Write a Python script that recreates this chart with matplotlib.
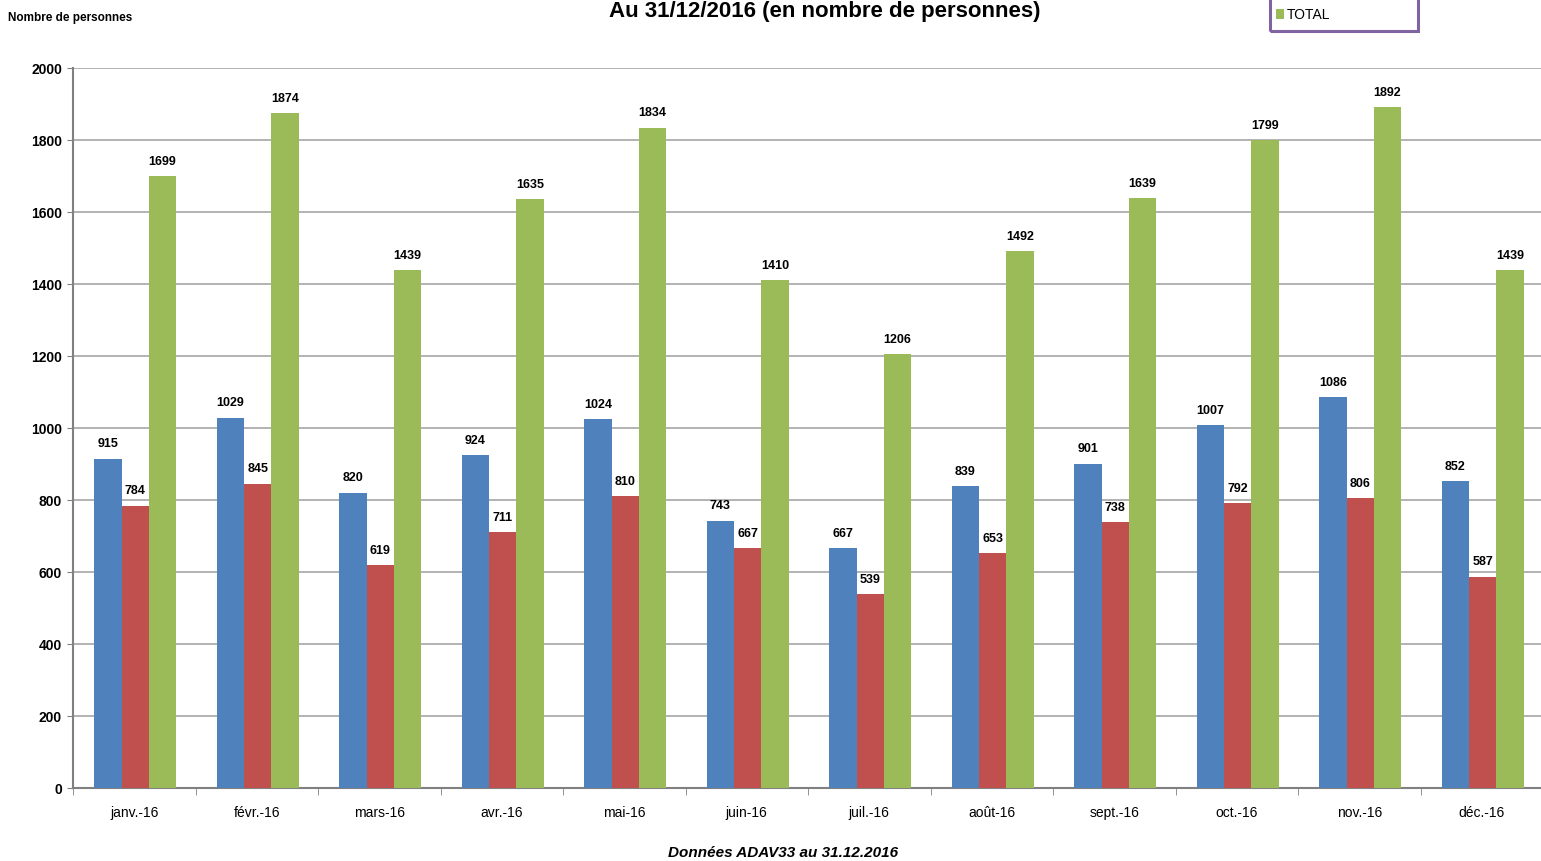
import numpy as np
import matplotlib
matplotlib.use('Agg')
import matplotlib.pyplot as plt
from matplotlib.patches import Rectangle
from matplotlib.ticker import MultipleLocator, FixedLocator

plt.rcParams['font.family'] = ['Liberation Sans', 'DejaVu Sans']

# ---- données ----
mois = ['janv.-16', 'févr.-16', 'mars-16', 'avr.-16', 'mai-16', 'juin-16',
        'juil.-16', 'août-16', 'sept.-16', 'oct.-16', 'nov.-16', 'déc.-16']
serie_bleue = [915, 1029, 820, 924, 1024, 743, 667, 839, 901, 1007, 1086, 852]
serie_rouge = [784, 845, 619, 711, 810, 667, 539, 653, 738, 792, 806, 587]
total = [1699, 1874, 1439, 1635, 1834, 1410, 1206, 1492, 1639, 1799, 1892, 1439]

W, H = 1541, 861
fig = plt.figure(figsize=(W / 100, H / 100), dpi=100)
ax = fig.add_axes([73 / W, 73 / H, 1470 / W, 720 / H])

x = np.arange(len(mois))
bw = 0.223
series = [(serie_bleue, '#4F81BD', None),
          (serie_rouge, '#C0504D', None),
          (total, '#9BBB59', 'TOTAL')]
for k, (vals, col, lab) in enumerate(series):
    pos = x + (k - 1) * bw + 0.008
    ax.bar(pos, vals, width=bw, color=col, label=lab, zorder=3)
    for xi, v in zip(pos, vals):
        ax.annotate(str(v), (xi, v), xytext=(0, 6), textcoords='offset points',
                    ha='center', va='bottom', fontsize=9, fontweight='bold')

ax.set_xlim(-0.5, len(mois) - 0.5)
ax.set_ylim(0, 2000)
ax.yaxis.set_major_locator(MultipleLocator(200))
ax.grid(axis='y', color='#A6A6A6', linewidth=1.2, zorder=0)

ax.set_xticks(x)
ax.set_xticklabels(mois, fontsize=10)
ax.xaxis.set_minor_locator(FixedLocator(np.arange(-0.5, len(mois) + 0.5, 1)))
ax.tick_params(axis='x', which='major', length=0, pad=13)
ax.tick_params(axis='x', which='minor', length=5, color='#808080')
ax.tick_params(axis='y', length=4, color='#808080', labelsize=10, pad=4)
for t in ax.get_yticklabels():
    t.set_fontweight('bold')

for s in ['top', 'right']:
    ax.spines[s].set_visible(False)
ax.spines['left'].set_color('#808080')
ax.spines['left'].set_linewidth(1.5)
ax.spines['bottom'].set_color('#808080')
ax.spines['bottom'].set_linewidth(1.5)

# ---- textes ----
fig.text(825 / W, 1 - 11 / H, 'Au 31/12/2016 (en nombre de personnes)',
         ha='center', va='center', fontsize=16, fontweight='bold')
fig.text(8 / W, 1 - 18 / H, 'Nombre de personnes', ha='left', va='center',
         fontsize=8.5, fontweight='bold')
fig.text(783 / W, 1 - 853 / H, 'Données ADAV33 au 31.12.2016', ha='center',
         va='center', fontsize=11, fontweight='bold', style='italic')

# ---- légende (cadre coupé en haut comme sur l'original) ----
fig.patches.append(Rectangle((1270 / W, 1 - 31 / H), 148 / W, 60 / H,
                             transform=fig.transFigure, fill=False,
                             edgecolor='#8064A2', linewidth=2.2))
h, l = ax.get_legend_handles_labels()
fig.legend(h, l, loc='center left', bbox_to_anchor=(1276 / W, 1 - 15 / H),
           frameon=False, fontsize=10, handlelength=0.6, handleheight=0.8,
           handletextpad=0.2, borderpad=0, borderaxespad=0)

fig.savefig('out.png', dpi=100)
